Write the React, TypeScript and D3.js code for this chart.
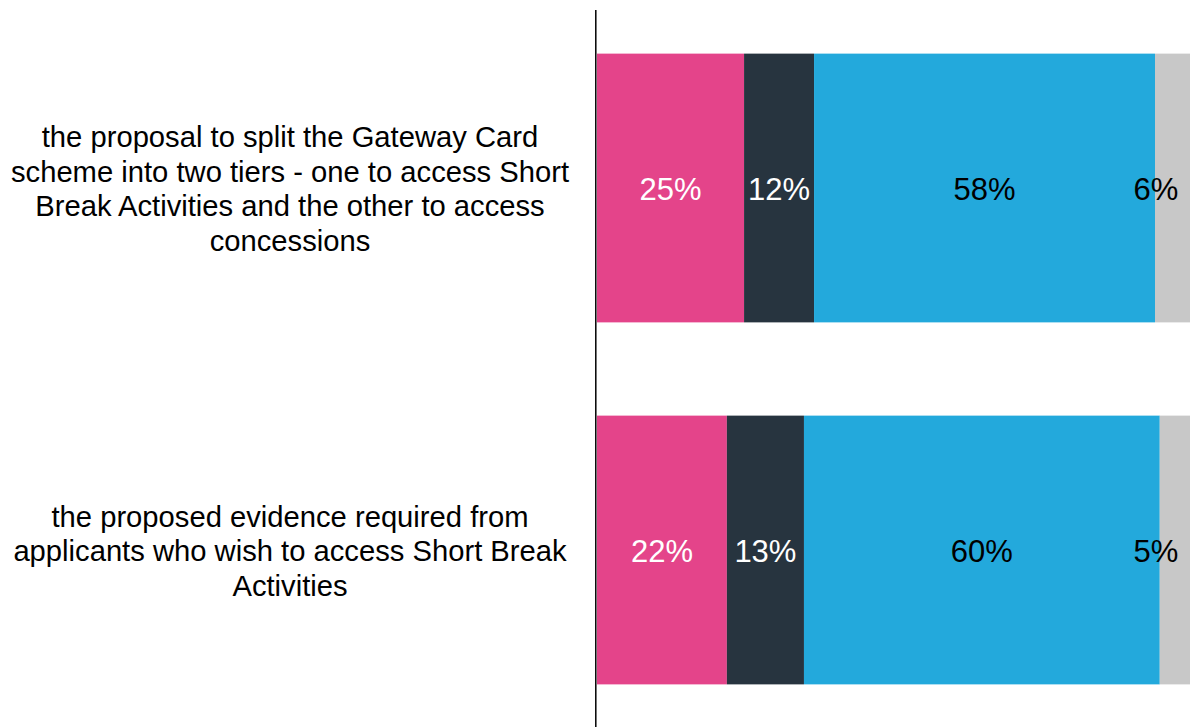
import React from "react";
import * as d3 from "d3";

const categories: string[][] = [
  [
    "the proposal to split the Gateway Card",
    "scheme into two tiers - one to access Short",
    "Break Activities and the other to access",
    "concessions",
  ],
  [
    "the proposed evidence required from",
    "applicants who wish to access Short Break",
    "Activities",
  ],
];

const seriesNames = ["s1", "s2", "s3", "s4"];
const s1Values = [24.8, 21.9];
const s2Values = [11.8, 13.0];
const s3Values = [57.5, 60.0];
const s4Values = [5.9, 5.1];

const colors = ["#E4448A", "#27343F", "#23A9DC", "#C8C8C8"];
const labelColors = ["#ffffff", "#ffffff", "#000000", "#000000"];

const W = 1195;
const H = 727;
const FONT = "'Liberation Sans', Arial, sans-serif";

export default function App() {
  const series = [s1Values, s2Values, s3Values, s4Values];
  const x = d3.scaleLinear().domain([0, 100]).range([597, 1190]);
  const y = d3
    .scaleBand<number>()
    .domain(categories.map((_, i) => i))
    .range([7, 731])
    .paddingInner(0.2576)
    .paddingOuter(0.1288);

  const rows = categories.map((_, i) => {
    const vals = series.map((s) => s[i]);
    let acc = 0;
    return vals.map((v, k) => {
      const start = acc;
      acc += v;
      return { k, v, start, end: acc };
    });
  });

  const fsCat = 29.2;
  const fsVal = 31;
  const lh = 34.5;

  return (
    <div style={{ position: "fixed", left: 0, top: 0, width: W, height: H, background: "#fff" }}>
      <svg width={W} height={H} style={{ display: "block" }}>
        {rows.map((segs, i) => {
          const y0 = y(i)!;
          const bw = y.bandwidth();
          const cy = y0 + bw / 2;
          return (
            <g key={i}>
              {segs.map((s) => (
                <rect
                  key={s.k}
                  x={x(s.start)}
                  y={y0}
                  width={x(s.end) - x(s.start)}
                  height={bw}
                  fill={colors[s.k]}
                />
              ))}
              {segs.map((s) => {
                let cx = (x(s.start) + x(s.end)) / 2;
                cx = Math.min(cx, x(100) - 34);
                return (
                  <text
                    key={"l" + s.k}
                    x={cx}
                    y={cy + 1}
                    dy="0.35em"
                    textAnchor="middle"
                    fontFamily={FONT}
                    fontSize={fsVal}
                    fill={labelColors[s.k]}
                  >
                    {Math.round(s.v) + "%"}
                  </text>
                );
              })}
              {categories[i].map((line, j) => (
                <text
                  key={"c" + j}
                  x={290}
                  y={cy + (j - (categories[i].length - 1) / 2) * lh + 1}
                  dy="0.35em"
                  textAnchor="middle"
                  fontFamily={FONT}
                  fontSize={fsCat}
                  fill="#000"
                >
                  {line}
                </text>
              ))}
            </g>
          );
        })}
        <line x1={x(0) - 1.2} x2={x(0) - 1.2} y1={10} y2={H} stroke="#000" strokeWidth={1.5} />
      </svg>
    </div>
  );
}
